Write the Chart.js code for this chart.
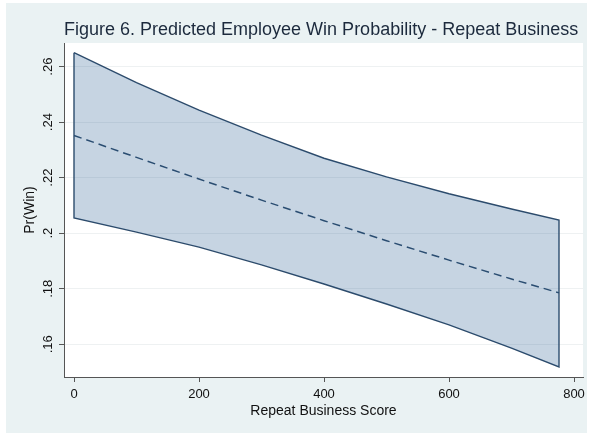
<!DOCTYPE html>
<html>
<head>
<meta charset="utf-8">
<title>Predicted Employee Win Probability - Repeat Business</title>
<script src="https://cdn.jsdelivr.net/npm/chart.js@4/dist/chart.umd.min.js"></script>
<style>
  html, body { margin: 0; padding: 0; background: #ffffff; }
  #wrap { width: 591px; height: 435px; }
</style>
</head>
<body>
<div id="wrap"><canvas id="chart" width="591" height="435"></canvas></div>
<script>
// Repeat business score (x) and predicted win probability with 95% bounds
const scores = [0, 100, 200, 300, 400, 500, 600, 700, 776];
const predicted = [0.2352, 0.2273, 0.2195, 0.2119, 0.2045, 0.1973, 0.1903, 0.1835, 0.1785];
const upperBound = [0.2650, 0.2542, 0.2443, 0.2353, 0.2270, 0.2203, 0.2142, 0.2087, 0.2047];
const lowerBound = [0.2055, 0.2004, 0.1950, 0.1886, 0.1817, 0.1745, 0.1670, 0.1586, 0.1518];

// Axis ticks
const xTicks = [0, 200, 400, 600, 800];
const yTicks = [0.16, 0.18, 0.20, 0.22, 0.24, 0.26];
const yTickLabels = ['.16', '.18', '.2', '.22', '.24', '.26'];

const FONT = '"Liberation Sans", Arial, Helvetica, sans-serif';
const NAVY = '#2f4b69';

const toPoints = (xs, ys) => xs.map((x, i) => ({ x: x, y: ys[i] }));

// Closed outline of the confidence band: upper edge left to right,
// then lower edge right to left, back to the start.
const outline = toPoints(scores, upperBound)
  .concat(toPoints(scores, lowerBound).reverse())
  .concat([{ x: scores[0], y: upperBound[0] }]);

// Light panel behind the figure and white plot region
const backdrop = {
  id: 'backdrop',
  beforeDraw(chart) {
    const { ctx, chartArea: a } = chart;
    ctx.save();
    ctx.fillStyle = '#ffffff';
    ctx.fillRect(0, 0, chart.width, chart.height);
    ctx.fillStyle = '#eaf2f3';
    ctx.fillRect(6, 3, 581, 430);
    ctx.fillStyle = '#ffffff';
    ctx.fillRect(a.left, a.top, a.right - a.left, a.bottom - a.top);
    ctx.restore();
  }
};

new Chart(document.getElementById('chart'), {
  type: 'line',
  plugins: [backdrop],
  data: {
    datasets: [
      {
        label: 'Upper bound',
        data: toPoints(scores, upperBound),
        borderWidth: 0,
        pointRadius: 0,
        fill: '+1',
        backgroundColor: 'rgba(27, 83, 139, 0.25)'
      },
      {
        label: 'Lower bound',
        data: toPoints(scores, lowerBound),
        borderWidth: 0,
        pointRadius: 0,
        fill: false
      },
      {
        label: 'Band outline',
        data: outline,
        borderColor: NAVY,
        borderWidth: 1.4,
        pointRadius: 0,
        fill: false
      },
      {
        label: 'Pr(Win)',
        data: toPoints(scores, predicted),
        borderColor: NAVY,
        borderWidth: 1.5,
        borderDash: [8, 5],
        pointRadius: 0,
        fill: false
      }
    ]
  },
  options: {
    responsive: false,
    animation: false,
    devicePixelRatio: 1,
    layout: { padding: { left: 0, right: 8, top: 0, bottom: 0 } },
    elements: { line: { tension: 0 } },
    plugins: {
      legend: { display: false },
      tooltip: { enabled: false },
      title: {
        display: true,
        text: 'Figure 6. Predicted Employee Win Probability - Repeat Business',
        align: 'start',
        fullSize: false,
        color: '#1c2a3d',
        font: { family: FONT, size: 18, weight: 'normal', lineHeight: 1.2 },
        padding: { top: 19.6, bottom: 1.8 }
      }
    },
    scales: {
      x: {
        type: 'linear',
        min: -16,
        max: 814.4,
        afterBuildTicks: s => { s.ticks = xTicks.map(v => ({ value: v })); },
        afterFit: s => { s.height = 58; },
        ticks: {
          color: '#111111',
          font: { family: FONT, size: 13 },
          padding: 4.5,
          maxRotation: 0,
          autoSkip: false
        },
        grid: { drawOnChartArea: false, tickLength: 5, tickColor: '#555555', tickWidth: 1 },
        border: { display: true, color: '#555555', width: 1 },
        title: {
          display: true,
          text: 'Repeat Business Score',
          color: '#111111',
          font: { family: FONT, size: 14, lineHeight: 1.2 },
          padding: { top: 0, bottom: 15 }
        }
      },
      y: {
        type: 'linear',
        min: 0.1482,
        max: 0.2685,
        afterBuildTicks: s => { s.ticks = yTicks.map(v => ({ value: v })); },
        afterFit: s => { s.width = 64; },
        ticks: {
          color: '#111111',
          font: { family: FONT, size: 13 },
          padding: 2,
          minRotation: 90,
          maxRotation: 90,
          crossAlign: 'center',
          autoSkip: false,
          callback: (v, i) => yTickLabels[i]
        },
        grid: { color: '#eef1f2', lineWidth: 1, tickLength: 5, tickColor: '#555555', tickWidth: 1 },
        border: { display: true, color: '#555555', width: 1 },
        title: {
          display: true,
          text: 'Pr(Win)',
          color: '#111111',
          font: { family: FONT, size: 14, lineHeight: 1.2 },
          padding: { top: 21.6, bottom: 0 }
        }
      }
    }
  }
});
</script>
</body>
</html>
